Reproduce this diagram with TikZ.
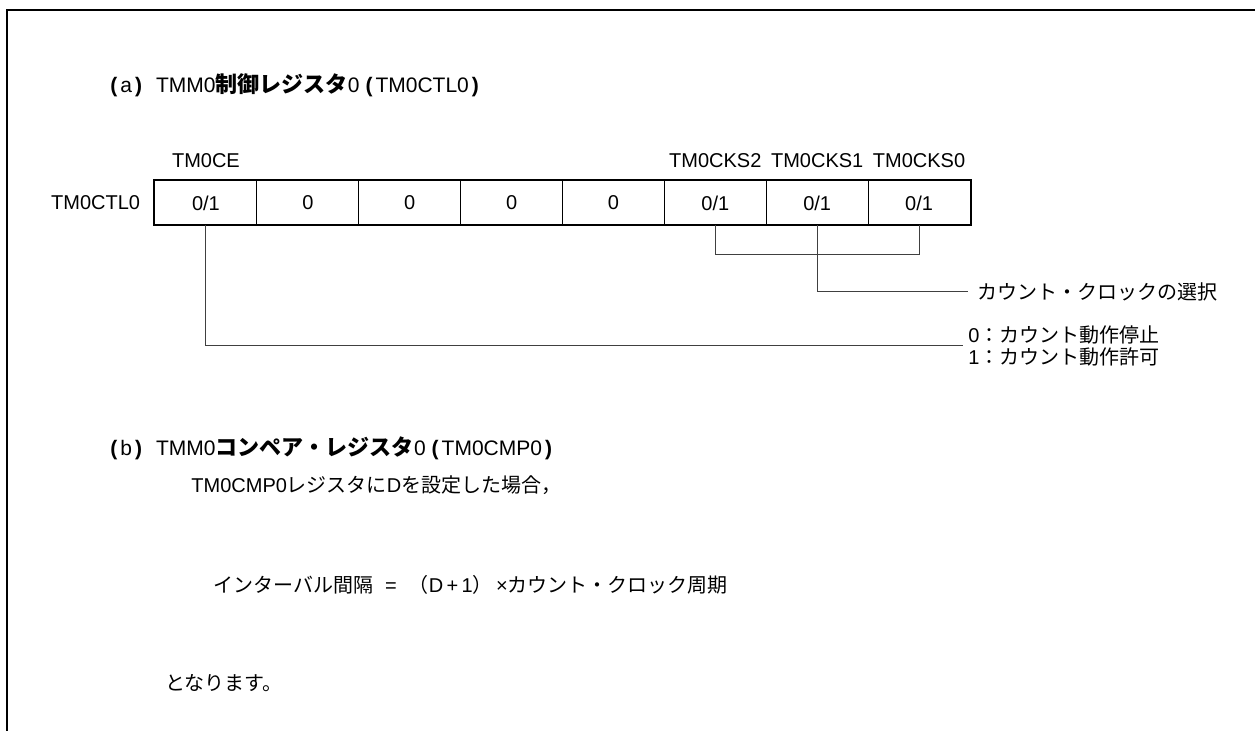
\documentclass[tikz,border=0pt]{standalone}
\usepackage{fontspec}
\setmainfont{Liberation Sans}
\newfontfamily\jp{Noto Sans CJK JP}
\newfontfamily\jph{Noto Sans CJK JP}[Scale=1.05]
\usetikzlibrary{positioning}
\newcommand{\zo}{0/1}
\newcommand{\pl}{\textbf{(}\hspace{1.5pt}}
\newcommand{\pr}{\hspace{1.5pt}\textbf{)}}

\begin{document}
\begin{tikzpicture}[x=0.5pt,y=-0.5pt,
    font=\fontsize{10}{11}\selectfont,
    cell/.style={draw,line width=0.5pt,minimum width=50.94pt,minimum height=22pt,inner sep=0pt},
    lbl/.style={inner sep=0pt},
    lead/.style={line width=0.5pt,black!75},
    note/.style={anchor=west,inner sep=0pt,align=left},
    head/.style={note,font=\fontsize{10.5}{12}\selectfont}]
        \useasboundingbox (0,0) rectangle (1255,731);
        \draw[line width=1pt] (7,731) -- (7,10) -- (1255,10);

        % (a) register
        \node[head] (ha) at (110,85) {\pl a\pr\hspace{7pt}TMM0{\jph\bfseries 制御レジスタ}0\hspace{3pt}\pl TM0CTL0\pr};

        \foreach \i/\v in {0/\zo,1/0,2/0,3/0,4/0,5/\zo,6/\zo,7/\zo}
            \node[cell] (c\i) at ({155+101.875*(\i+0.5)},203) {\v};
        \draw[line width=1pt] (c0.north west) rectangle (c7.south east);

        \node[lbl] (ce) at ([yshift=10pt]c0.north) {TM0CE};
        \foreach \i/\n in {5/2,6/1,7/0}
            \node[lbl] (ck\n) at ([yshift=10pt]c\i.north) {TM0CKS\n};
        \node[lbl,left=7pt of c0] (reg) {TM0CTL0};

        \path (c6.south) ++(0,29) coordinate (j);
        \draw[lead] (c5.south) |- (j) -| (c7.south);
        \node[note] (clk) at (977,292) {\jp カウント・クロックの選択};
        \draw[lead] (c6.south) |- ([xshift=-4.5pt]clk.west);

        \node[note] (st) at (968,346) {0{\jp ：カウント動作停止}\\1{\jp ：カウント動作許可}};
        \draw[lead] (c0.south) |- ([xshift=-2.5pt]st.west);

        % (b) compare register
        \node[head] (hb) at (110,448) {\pl b\pr\hspace{7pt}TMM0{\jph\bfseries コンペア・レジスタ}0\hspace{3pt}\pl TM0CMP0\pr};
        \node[note] (cond) at (191,485) {TM0CMP0{\jp レジスタに}D{\jp を設定した場合，}};
        \node[note] (eq) at (213,585) {{\jp インターバル間隔}\hspace{0.6em}=\hspace{0.6em}{\jp （}D\,+\,1{\jp ）}\,×{\jp カウント・クロック周期}};
        \node[note] (res) at (165,683) {\jp となります。};
    \end{tikzpicture}
\end{document}
